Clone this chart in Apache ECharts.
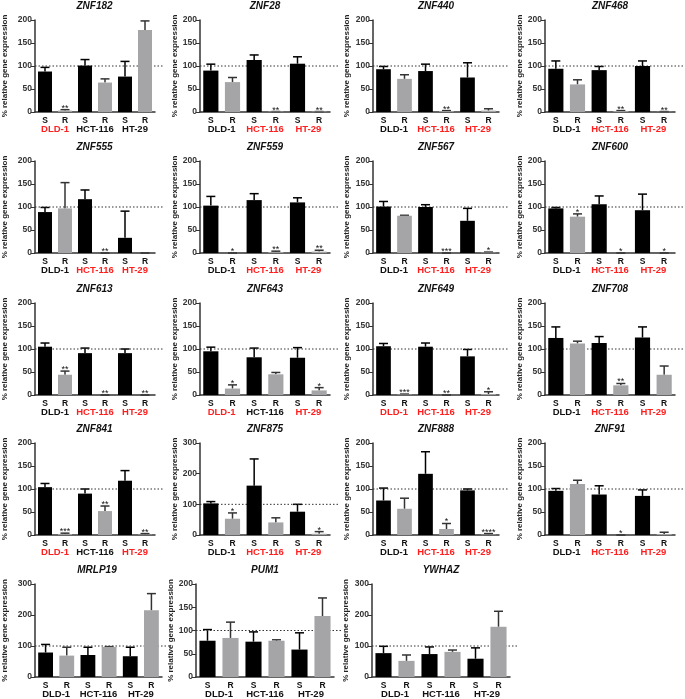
<!DOCTYPE html>
<html>
<head>
<meta charset="utf-8">
<script src="https://cdn.jsdelivr.net/npm/echarts@6/dist/echarts.min.js"></script>
<style>html,body{margin:0;padding:0;background:#fff}#c{width:685px;height:699px}</style>
</head>
<body>
<div id="c"></div>
<script>
// ---- data ----
const genes = ['ZNF182','ZNF28','ZNF440','ZNF468','ZNF555','ZNF559','ZNF567','ZNF600',
  'ZNF613','ZNF643','ZNF649','ZNF708','ZNF841','ZNF875','ZNF888','ZNF91','MRLP19','PUM1','YWHAZ'];
const categories = ['S','R','S','R','S','R'];
const cellLines = ['DLD-1','HCT-116','HT-29'];
const means = [
  [88,3,101,64,77,178],
  [90,65,113,1,105,1],
  [93,72,89,2,75,3],
  [94,60,91,2,100,0.5],
  [89,97,117,0,33,0],
  [103,0,115,2,110,3],
  [101,81,100,0,70,1],
  [97,79,106,0,93,0],
  [105,44,91,0,91,0],
  [95,14,82,45,81,10],
  [106,1,105,0,84,2],
  [124,112,113,21,125,44],
  [104,2,90,52,118,1],
  [103,53,161,41,76,4],
  [75,57,133,13,97,1],
  [96,111,88,0,85,2],
  [79,69,71,97,67,215],
  [78,84,76,78,59,131],
  [77,52,74,81,59,162]
];
const sds = [
  [9,2,13,8,33,20],
  [14,10,11,0,15,0],
  [6,9,15,1,32,4],
  [17,10,8,1,11,0.5],
  [10,56,20,0,58,0],
  [20,0,14,2,10,3],
  [11,1,5,0,27,1],
  [2,6,18,0,35,0],
  [8,8,11,0,9,0],
  [9,8,20,4,22,6],
  [6,1,8,0,15,5],
  [24,5,14,4,23,19],
  [8,2,10,11,22,2],
  [6,19,87,15,24,7],
  [27,23,48,12,3,2],
  [5,8,19,0,13,4],
  [26,27,25,1,29,54],
  [24,34,21,2,36,39],
  [22,19,23,6,35,50]
];
const stars = [
  ['','**','','','',''],
  ['','','','**','','**'],
  ['','','','**','',''],
  ['','','','**','','**'],
  ['','','','**','',''],
  ['','*','','**','','**'],
  ['','','','***','','*'],
  ['','*','','*','','*'],
  ['','**','','**','','**'],
  ['','*','','','','*'],
  ['','***','','**','','*'],
  ['','','','**','',''],
  ['','***','','**','','**'],
  ['','*','','','','*'],
  ['','','','*','','****'],
  ['','','','*','',''],
  ['','','','','',''],
  ['','','','','',''],
  ['','','','','','']
];
const redLabels = [
  [1,0,0],[0,1,1],[0,1,1],[0,1,1],
  [0,1,1],[0,1,1],[0,1,1],[0,1,1],
  [0,1,1],[1,0,1],[1,1,1],[0,1,1],
  [1,0,1],[0,1,1],[0,1,1],[0,1,1],
  [0,0,0],[0,0,0],[0,0,0]
];
const yMax = [200,200,200,200,200,200,200,200,200,200,200,200,200,300,200,200,300,200,300];
const refValue = 100;

// ---- layout ----
const colX = [[34,155],[200,330],[373,499],[545,675]];
const lastRowX = [[32,162],[196,334],[372,510]];
const rowY = [[20,112],[161,253],[303,395],[443,535],[584,677]];
const nameGaps = [26,19,22,18];
const FONT = '"Liberation Sans", Arial, sans-serif';
const RED = '#ff1f1f';
const barColors = ['#000000','#a5a5a8'];

const grid = [], xAxis = [], yAxis = [], series = [], title = [];
genes.forEach((g, k) => {
  const row = Math.floor(k / 4), col = k % 4;
  const xs = row === 4 ? lastRowX[col] : colX[col];
  const ys = rowY[row];
  grid.push({left: xs[0], top: ys[0], width: xs[1] - xs[0], height: ys[1] - ys[0], containLabel: false});
  title.push({
    text: g, left: (xs[0] + xs[1]) / 2, top: ys[0] - 19, textAlign: 'center', padding: 0,
    textStyle: {fontFamily: FONT, fontSize: 10, fontWeight: 'bold', fontStyle: 'italic', color: '#111'}
  });
  xAxis.push({
    type: 'category', gridIndex: k, data: categories,
    axisLine: {lineStyle: {color: '#333', width: 1.5}},
    axisTick: {alignWithLabel: true, length: 3, lineStyle: {color: '#333', width: 1}},
    axisLabel: {fontFamily: FONT, fontSize: 8.5, fontWeight: 'bold', color: '#111', margin: 4, interval: 0}
  });
  const red = redLabels[k];
  xAxis.push({
    type: 'category', gridIndex: k, data: cellLines, position: 'bottom',
    axisLine: {show: false}, axisTick: {show: false},
    axisLabel: {
      interval: 0, margin: 12,
      formatter: (v, i) => red[i] ? '{r|' + v + '}' : '{b|' + v + '}',
      rich: {
        r: {fontFamily: FONT, fontSize: 9.5, fontWeight: 'bold', color: RED},
        b: {fontFamily: FONT, fontSize: 9.5, fontWeight: 'bold', color: '#111'}
      }
    }
  });
  yAxis.push({
    type: 'value', gridIndex: k, min: 0, max: yMax[k], interval: yMax[k] === 300 ? 100 : 50,
    name: '% relative gene expression', nameLocation: 'middle', nameGap: nameGaps[col],
    nameTextStyle: {fontFamily: FONT, fontSize: 8, fontWeight: 'bold', color: '#222'},
    axisLine: {show: true, lineStyle: {color: '#333', width: 1.5}},
    axisTick: {show: true, length: 4, lineStyle: {color: '#333'}},
    splitLine: {show: false},
    axisLabel: {fontFamily: FONT, fontSize: 8.5, fontWeight: 'bold', color: '#333', margin: 3}
  });
  const xi = 2 * k;
  series.push({
    type: 'bar', xAxisIndex: xi, yAxisIndex: k, barCategoryGap: '30%',
    data: means[k].map((v, i) => ({value: v, itemStyle: {color: barColors[i % 2]}})),
    animation: false, silent: true
  });
  const sd = sds[k], st = stars[k];
  series.push({
    type: 'custom', xAxisIndex: xi, yAxisIndex: k, animation: false, silent: true, clip: false,
    data: means[k].map((v, i) => [i, v, sd[i]]),
    renderItem: (params, api) => {
      const i = api.value(0), m = api.value(1), e = api.value(2);
      const b = api.coord([i, m]), t = api.coord([i, m + e]);
      const cap = 4.5;
      const col = i % 2 ? '#333' : '#000';
      const children = [];
      if (e > 0) children.push({type: 'line', shape: {x1: b[0], y1: b[1], x2: t[0], y2: t[1]}, style: {stroke: col, lineWidth: 1.5}});
      children.push({type: 'line', shape: {x1: t[0] - cap, y1: t[1], x2: t[0] + cap, y2: t[1]}, style: {stroke: col, lineWidth: 1.5}});
      const s = st[params.dataIndex];
      if (s) children.push({type: 'text', x: t[0], y: t[1] + 3, style: {text: s, fill: '#111', font: '9px ' + FONT, align: 'center', verticalAlign: 'bottom'}});
      return {type: 'group', children};
    }
  });
  series.push({
    type: 'custom', xAxisIndex: xi, yAxisIndex: k, animation: false, silent: true, clip: false,
    data: [[0, refValue]],
    renderItem: (params, api) => {
      const p = api.coord([0, api.value(1)]);
      const band = api.size([1, 0])[0];
      const x0 = p[0] - band / 2;
      return {type: 'line', shape: {x1: x0, y1: p[1], x2: x0 + categories.length * band + 9, y2: p[1]},
        style: {stroke: '#333', lineWidth: 1, lineDash: [1.5, 2]}};
    }
  });
});

const chart = echarts.init(document.getElementById('c'), null, {renderer: 'canvas'});
chart.setOption({animation: false, title, grid, xAxis, yAxis, series});
</script>
</body>
</html>
